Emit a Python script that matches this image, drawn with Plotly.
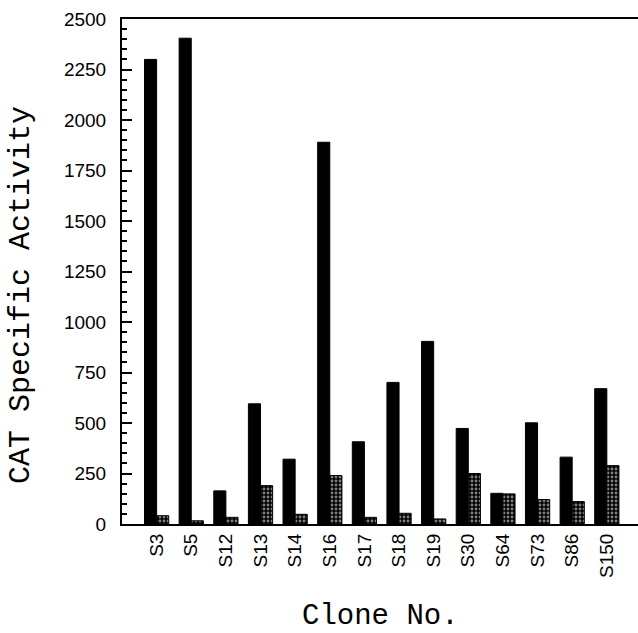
import plotly.graph_objects as go

clones = ["S3", "S5", "S12", "S13", "S14", "S16", "S17", "S18", "S19", "S30", "S64", "S73", "S86", "S150"]
solid_vals = [2300, 2405, 164, 595, 321, 1890, 407, 701, 904, 473, 152, 501, 331, 670]
hatched_vals = [41, 16, 33, 190, 48, 240, 33, 53, 25, 250, 149, 121, 111, 289]
y_ticks = [0, 250, 500, 750, 1000, 1250, 1500, 1750, 2000, 2250, 2500]

fig = go.Figure()
fig.add_trace(go.Bar(
    x=clones, y=solid_vals, name="solid",
    marker=dict(color="black", line=dict(color="black", width=1)),
))
fig.add_trace(go.Bar(
    x=clones, y=hatched_vals, name="hatched",
    marker=dict(color="black", line=dict(color="black", width=1),
                pattern=dict(shape=".", fgcolor="white", bgcolor="black", size=4, solidity=0.4)),
))

fig.update_layout(
    width=638, height=633,
    margin=dict(l=122, r=0, t=19, b=109),
    paper_bgcolor="white", plot_bgcolor="white",
    showlegend=False,
    barmode="group", bargap=0.3, bargroupgap=0,
    font=dict(family="Liberation Sans, Arial, sans-serif", color="black", size=18),
)
fig.update_xaxes(
    type="category", range=[-1, 13.9],
    showline=True, linecolor="black", linewidth=2, mirror=True,
    showgrid=False, ticks="", tickangle=-90,
    tickfont=dict(size=19, family="Liberation Sans, Arial, sans-serif"),
)
fig.update_yaxes(
    range=[0, 2500], tickvals=y_ticks,
    showline=True, linecolor="black", linewidth=2,
    showgrid=False, zeroline=False,
    ticks="inside", ticklen=10, tickwidth=2, tickcolor="black",
    minor=dict(dtick=50, ticks="inside", ticklen=5, tickwidth=1.5, tickcolor="black", showgrid=False),
    tickfont=dict(size=19, family="Liberation Sans, Arial, sans-serif"),
    ticklabelstandoff=10,
)
fig.add_annotation(
    text="CAT Specific Activity", xref="paper", yref="paper",
    x=-122/516, y=(633-109-295)/505, xanchor="left", yanchor="middle",
    textangle=-90, showarrow=False, xshift=2,
    font=dict(family="Liberation Mono, Courier New, monospace", size=30, color="black"),
)
fig.add_annotation(
    text="Clone No.", xref="paper", yref="paper",
    x=(380-122)/516, y=0, xanchor="center", yanchor="middle",
    yshift=-92, showarrow=False,
    font=dict(family="Liberation Mono, Courier New, monospace", size=29, color="black"),
)

fig.write_html("out.html")
